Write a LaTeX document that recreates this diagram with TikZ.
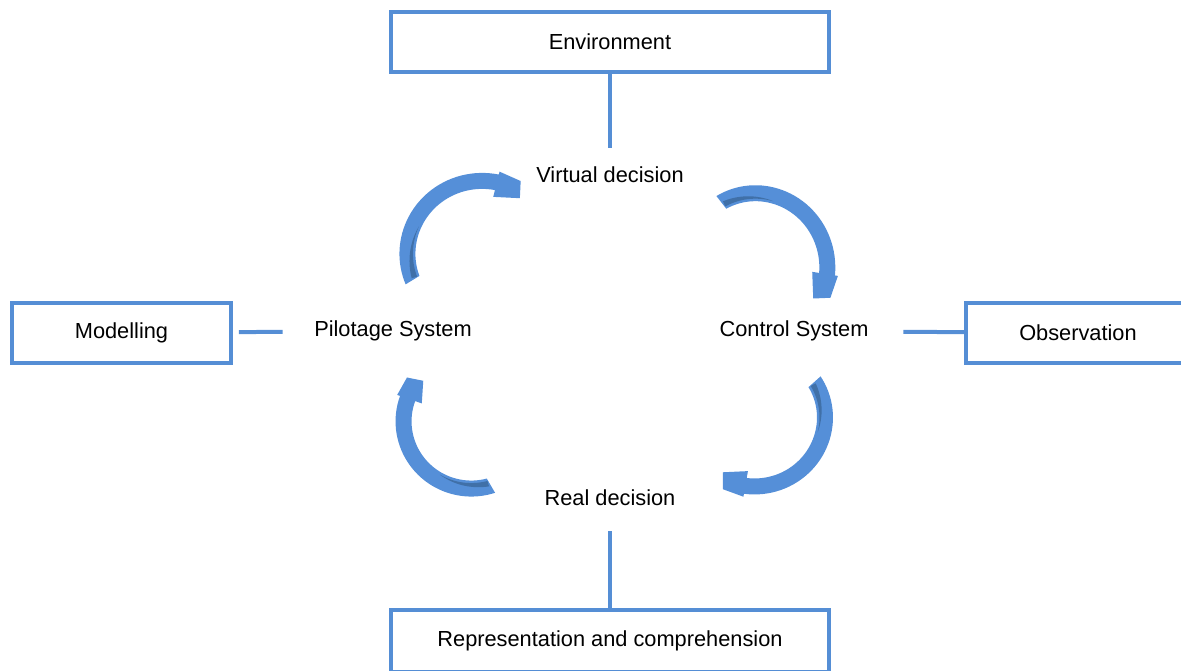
\documentclass[tikz,border=0pt]{standalone}
\usepackage{fontspec}
\setmainfont{Liberation Sans}
\definecolor{lineblue}{RGB}{85,142,213}
\definecolor{arrowblue}{RGB}{85,143,216}
\definecolor{arrowshade}{RGB}{64,112,168}

% Curved block arrow turning clockwise around a centre:
% #1,#2 centre, #3 tail angle, #4 head angle, #5 outer radius at tail, #6 outer radius at head
\newcommand\bentarrow[6]{%
  \begin{scope}[shift={(#1,#2)},yscale=-1]
    \pgfmathsetmacro\bA{#3}\pgfmathsetmacro\bB{#4}%
    \pgfmathsetmacro\bRa{#5}\pgfmathsetmacro\bRb{#6}%
    \pgfmathsetmacro\bAi{\bA-3}%
    \pgfmathsetmacro\bD{\bA-48}%
    \pgfmathsetmacro\bT{\bB-15}\pgfmathsetmacro\bTi{\bB-21}%
    \pgfmathsetmacro\bHo{\bRb+3}\pgfmathsetmacro\bFo{\bRb+2}%
    \pgfmathsetmacro\bFi{\bRb-13}\pgfmathsetmacro\bHi{\bRb-23}\pgfmathsetmacro\bSi{\bRb-16}%
    \fill[arrowblue]
      plot[domain=\bA:\bB,samples=40] (\x:{\bRa+(\bRb-\bRa)*(\bA-\x)/(\bA-\bB)})
      -- (\bB:\bHo) -- (\bT:\bFo) -- (\bTi:\bFi) -- (\bB:\bHi) -- (\bB:\bSi)
      -- plot[domain=\bB:\bAi,samples=40] (\x:{\bRa+(\bRb-\bRa)*(\bA-\x)/(\bA-\bB)-16})
      -- cycle;
    % darker underside showing near the tail
    \fill[arrowshade]
      plot[domain=\bAi:\bD,samples=20] (\x:{\bRa+(\bRb-\bRa)*(\bA-\x)/(\bA-\bB)-13.5})
      -- plot[domain=\bD:\bAi,samples=20] (\x:{\bRa+(\bRb-\bRa)*(\bA-\x)/(\bA-\bB)-13.5+6*(\x-\bD)/48})
      -- cycle;
  \end{scope}}

\begin{document}
\begin{tikzpicture}[x=0.02cm,y=-0.02cm,
  every node/.style={font=\fontsize{12.4}{15}\selectfont, inner sep=0pt},
  box/.style={draw=lineblue, line width=0.08cm, fill=white, minimum height=1.2cm},
  tag/.style={minimum width=4.4cm, minimum height=1.08cm},
  conn/.style={draw=lineblue, line width=0.08cm}]
  \useasboundingbox (0,0) rectangle (1181,671);
  \clip (0,0) rectangle (1181,671);

  % cycle arrows
  \bentarrow{478}{258}{200}{76}{77}{86}
  \bentarrow{750}{262}{117}{-9}{74}{86}
  \bentarrow{758}{414}{31}{-100}{73}{81}
  \bentarrow{470}{420}{-71}{-199}{77}{74}

  % outer boxes
  \node[box, minimum width=8.78cm] (env) at (610,42) {Environment};
  \node[box, minimum width=4.38cm] (mod) at (121.5,333) {Modelling};
  \node[box, minimum width=4.48cm] (obs) at (1078,333) {Observation};
  \node[box, minimum width=8.78cm, minimum height=1.24cm] (rep) at (610,641)
    {\raisebox{0.06cm}{Representation and comprehension}};

  % inner labels
  \node[tag] (vd) at (610,175) {Virtual decision};
  \node[tag] (rd) at (610,498) {Real decision};
  \node[tag] (pil) at (393,331) {Pilotage System};
  \node[tag, minimum width=4.36cm] (ctl) at (794,331) {Control System};

  % connectors
  \draw[conn] (env) -- (vd);
  \draw[conn, shorten <=0.12cm] (rd) -- (rep);
  \draw[conn, shorten <=0.12cm] (mod) -- (pil);
  \draw[conn] (ctl) -- (obs);
\end{tikzpicture}
\end{document}
